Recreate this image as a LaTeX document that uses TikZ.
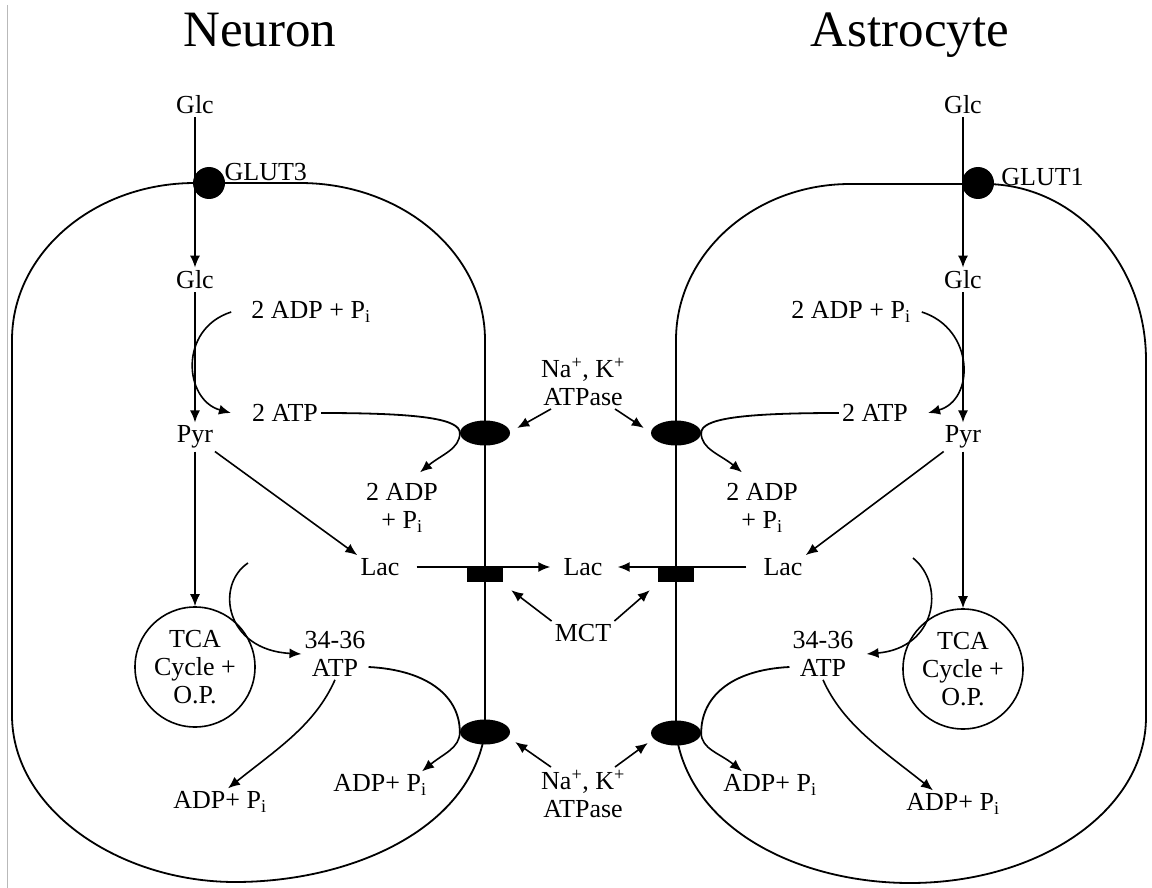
\documentclass[tikz,border=0pt]{standalone}
\usepackage{fontspec}
\setmainfont{Liberation Serif}
\usetikzlibrary{arrows.meta,positioning,shapes.geometric}
\tikzset{
  lbl/.style={font=\fontsize{26}{28}\selectfont,align=center,inner sep=3pt},
  ttl/.style={font=\fontsize{51}{56}\selectfont,inner sep=0pt,anchor=base},
  memb/.style={line width=1.8pt},
  glut/.style={circle,fill=black,minimum size=32pt,inner sep=0pt},
  pump/.style={ellipse,fill=black,minimum width=50pt,minimum height=25pt,inner sep=0pt},
  mctbox/.style={rectangle,fill=black,minimum width=36pt,minimum height=14pt,inner sep=0pt},
  tca/.style={circle,draw,line width=1.6pt,minimum size=120pt,inner sep=0pt,font=\fontsize{26}{28}\selectfont,align=center},
}

\begin{document}
\begin{tikzpicture}[x=1pt,y=-1pt,
  ar/.style={-{Latex[length=12pt,width=10pt]},line width=1.6pt}]
  \useasboundingbox (0,0) rectangle (1152,888);
  \draw[gray!55,line width=1pt] (7,5) -- (7,888);
  \draw[memb] (485,732) -- (485,340) .. controls (485,253) and (402,183) .. (300,183) -- (195,183)
    .. controls (94,183) and (12,253) .. (12,340) -- (12,715) .. controls (12,810) and (120,882) .. (235,882)
    .. controls (350,882) and (470,830) .. (485,732);
  \draw[memb] (676,733) -- (676,340) .. controls (676,254) and (754,184) .. (850,184) -- (985,184)
    .. controls (1074,184) and (1146,263) .. (1146,360) -- (1146,717) .. controls (1146,810) and (1040,883) .. (910,883)
    .. controls (800,883) and (690,830) .. (676,733);
  \node[ttl] (ntitle) at (260,47) {Neuron};
  \node[ttl] (atitle) at (910,47) {Astrocyte};
  \node[lbl] (nglco) at (195,105) {Glc};
  \node[lbl] (nglci) at (195,280) {Glc};
  \node[lbl] (npyr) at (195,437) {Pyr};
  \node[lbl] (nadp) at (311,312) {2 ADP + P\textsubscript{i}};
  \node[lbl] (natp) at (285,413) {2 ATP};
  \node[lbl] (nadp2) at (402,508) {2 ADP\\+ P\textsubscript{i}};
  \node[lbl] (nlac) at (380,567) {Lac};
  \node[tca] (ntca) at (195,667) {TCA\\Cycle +\\O.P.};
  \node[lbl] (natpb) at (335,654) {34-36\\ATP};
  \node[lbl] (nadpc) at (380,785) {ADP+ P\textsubscript{i}};
  \node[lbl] (nadpd) at (220,802) {ADP+ P\textsubscript{i}};
  \node[glut] (nglut) at (209,183) {};
  \node[lbl,right=1pt of nglut.north east] (nglutl) {GLUT3};
  \node[pump] (npump1) at (485,433) {};
  \node[pump] (npump2) at (485,732) {};
  \node[mctbox] (nmct) at (485,575) {};
  \node[lbl] (lacx) at (583,567) {Lac};
  \node[lbl] (mct) at (583,633) {MCT};
  \node[lbl] (pumpup) at (583,382) {Na\textsuperscript{+}, K\textsuperscript{+}\\ATPase};
  \node[lbl] (pumpdn) at (583,794) {Na\textsuperscript{+}, K\textsuperscript{+}\\ATPase};
  \node[lbl] (aglco) at (963,105) {Glc};
  \node[lbl] (aglci) at (963,280) {Glc};
  \node[lbl] (apyr) at (963,437) {Pyr};
  \node[lbl] (aadp) at (851,312) {2 ADP + P\textsubscript{i}};
  \node[lbl] (aatp) at (875,413) {2 ATP};
  \node[lbl] (aadp2) at (762,508) {2 ADP\\+ P\textsubscript{i}};
  \node[lbl] (alac) at (783,567) {Lac};
  \node[tca] (atca) at (963,669) {TCA\\Cycle +\\O.P.};
  \node[lbl] (aatpb) at (823,654) {34-36\\ATP};
  \node[lbl] (aadpc) at (770,785) {ADP+ P\textsubscript{i}};
  \node[lbl] (aadpd) at (953,804) {ADP+ P\textsubscript{i}};
  \node[glut] (aglut) at (978,183) {};
  \node[lbl,right=4pt of aglut.east,yshift=6pt] (aglutl) {GLUT1};
  \node[pump] (apump1) at (676,433) {};
  \node[pump] (apump2) at (676,733) {};
  \node[mctbox] (amct) at (676,575) {};
  \coordinate (ntcain) at (248,563);
  \coordinate (atcain) at (913,558);
  \draw[ar] (nglco) -- (nglci); \draw[ar] (nglci) -- (npyr); \draw[ar] (npyr) -- (ntca);
  \draw[ar] (npyr) -- (nlac.north west);
  \draw[ar] (aglco) -- (aglci); \draw[ar] (aglci) -- (apyr); \draw[ar] (apyr) -- (atca);
  \draw[ar] (apyr) -- (alac.north east);
  \draw[ar] ([xshift=-17pt]nadp.west) .. controls +(-53,17) and +(-47,-13) .. ([xshift=-18pt]natp.west);
  \draw[ar] ([xshift=8pt]aadp.east) .. controls +(53,17) and +(47,-13) .. ([xshift=17pt]aatp.east);
  \draw[memb] (natp.east) .. controls +(100,0) and +(0,-14) .. (npump1.west);
  \draw[ar] (npump1.west) .. controls +(0,16) and +(22,-18) .. ([xshift=18pt,yshift=8pt]nadp2.north);
  \draw[memb] (aatp.west) .. controls +(-100,0) and +(0,-14) .. (apump1.east);
  \draw[ar] (apump1.east) .. controls +(0,16) and +(-22,-18) .. ([xshift=-20pt,yshift=8pt]aadp2.north);
  \draw[ar] (ntcain) .. controls (215,585) and (225,650) .. (natpb.west);
  \draw[ar] (atcain) .. controls (946,585) and (936,648) .. ([xshift=10pt]aatpb.east);
  \draw[memb] ([yshift=-13pt]natpb.east) .. controls +(60,3) and +(0,-35) .. (npump2.west);
  \draw[ar] (npump2.west) .. controls +(0,16) and +(22,-18) .. ([xshift=42pt]nadpc.north);
  \draw[ar] (natpb.south) .. controls +(-20,45) and +(50,-40) .. ([xshift=8pt]nadpd.north);
  \draw[memb] ([yshift=-13pt]aatpb.west) .. controls +(-60,3) and +(0,-35) .. (apump2.east);
  \draw[ar] (apump2.east) .. controls +(0,16) and +(-22,-18) .. ([xshift=-28pt]aadpc.north);
  \draw[ar] (aatpb.south) .. controls +(20,45) and +(-50,-40) .. ([xshift=-20pt]aadpd.north);
  \draw[ar,shorten <=14pt,shorten >=10pt] (nlac.east) -- (lacx.west);
  \draw[ar,shorten <=14pt,shorten >=12pt] (alac.west) -- (lacx.east);
  \draw[ar] (mct.north west) -- ([xshift=8pt,yshift=-8pt]nmct.south east);
  \draw[ar] (mct.north east) -- ([xshift=-8pt,yshift=-8pt]amct.south west);
  \draw[ar] ([xshift=13pt]pumpup.south west) -- ([xshift=7pt,yshift=5pt]npump1.east);
  \draw[ar] ([xshift=-13pt]pumpup.south east) -- ([xshift=-7pt,yshift=5pt]apump1.west);
  \draw[ar] ([xshift=13pt]pumpdn.north west) -- ([xshift=5pt,yshift=-10pt]npump2.east);
  \draw[ar] ([xshift=-13pt]pumpdn.north east) -- ([xshift=-3pt,yshift=-10pt]apump2.west);
\end{tikzpicture}
\end{document}
